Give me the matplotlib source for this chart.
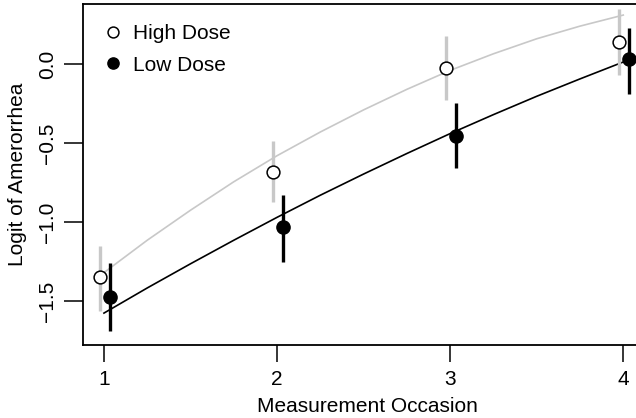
import matplotlib
matplotlib.use("Agg")
import matplotlib.pyplot as plt
import numpy as np

plt.rcParams['font.family'] = ['Liberation Sans', 'DejaVu Sans']

# data
occasion = [1, 2, 3, 4]
high_est = [-1.35, -0.68, -0.025, 0.14]
high_lo = [-1.56, -0.87, -0.23, -0.07]
high_hi = [-1.15, -0.49, 0.18, 0.35]
low_est = [-1.475, -1.03, -0.455, 0.03]
low_lo = [-1.69, -1.25, -0.66, -0.19]
low_hi = [-1.26, -0.83, -0.245, 0.23]

# fitted curves
fit_x = [1, 1.25, 1.5, 1.75, 2, 2.25, 2.5, 2.75, 3, 3.25, 3.5, 3.75, 4]
high_fit = [-1.32, -1.115, -0.925, -0.745, -0.58, -0.43, -0.29, -0.16,
            -0.04, 0.065, 0.16, 0.24, 0.31]
low_fit = [-1.576, -1.417, -1.264, -1.115, -0.97, -0.83, -0.696, -0.566,
           -0.44, -0.32, -0.204, -0.094, 0.013]

gray = '#c8c8c8'
fs = 15

fig = plt.figure(figsize=(6.36, 4.18), dpi=100)
ax = fig.add_axes([0.1305, 0.1746, 0.893, 0.8158])

xh = np.array(occasion) - 0.025
xl = np.array(occasion) + 0.035

ax.plot(fit_x, high_fit, color=gray, lw=1.2, zorder=1)
ax.plot(fit_x, low_fit, color='black', lw=1.2, zorder=1)

ax.vlines(xh, high_lo, high_hi, color=gray, lw=2.4, zorder=2)
ax.plot(xh, high_est, 'o', ms=9.2, mfc='white', mec='black', mew=1.1,
        zorder=3, label='High Dose', ls='none')
ax.vlines(xl, low_lo, low_hi, color='black', lw=2.4, zorder=4)
ax.plot(xl, low_est, 'o', ms=9.5, color='black', zorder=5,
        label='Low Dose', ls='none')

ax.set_xlim(0.879, 4.16)
ax.set_ylim(-1.778, 0.38)
ax.set_xticks(occasion)
ax.set_yticks([-1.5, -1.0, -0.5, 0.0])
ax.set_yticklabels(['\u22121.5', '\u22121.0', '\u22120.5', '0.0'],
                   rotation=90, va='center')
ax.tick_params(axis='x', labelsize=fs, length=12, width=1.1, pad=6)
ax.tick_params(axis='y', labelsize=fs, length=13.5, width=1.1, pad=5)

for s in ax.spines.values():
    s.set_linewidth(1.3)

ax.set_xlabel('Measurement Occasion', fontsize=fs, labelpad=6)
ax.set_ylabel('Logit of Amerorrhea', fontsize=fs, labelpad=8)

leg = ax.legend(loc='upper left', frameon=False, fontsize=fs,
                handlelength=1.0, handletextpad=0.45, labelspacing=0.62,
                borderaxespad=0.55, markerscale=0.85)

fig.savefig('out.png', dpi=100)
